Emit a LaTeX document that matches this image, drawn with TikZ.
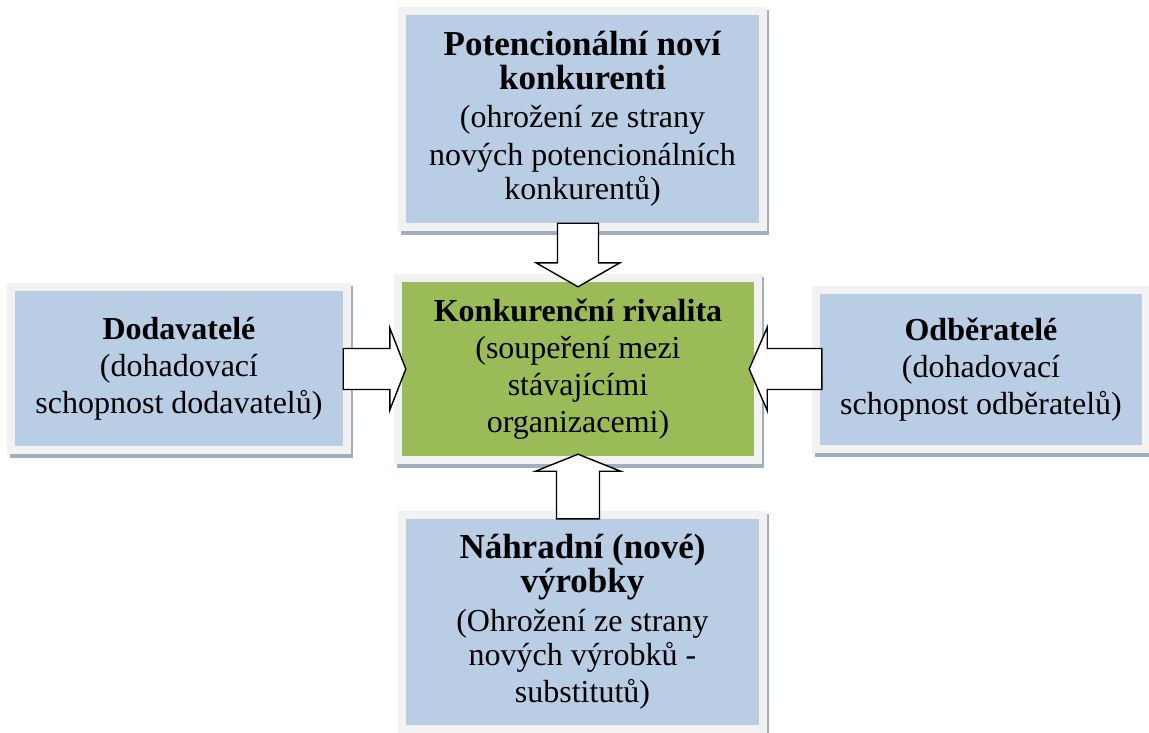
\documentclass[tikz,border=0pt]{standalone}
\usepackage{fontspec}
\setmainfont{Liberation Serif}
\usetikzlibrary{calc,backgrounds}
\definecolor{boxblue}{HTML}{B9CDE5}
\definecolor{boxgreen}{HTML}{9BBB59}
\definecolor{framegray}{HTML}{F2F2F2}
\definecolor{shadowgray}{HTML}{A2AEBE}
\newcommand{\bigb}[1]{{\fontsize{35}{37}\selectfont\textbf{#1}}}
\tikzset{
  panel/.style={rectangle, inner sep=0pt, align=center, text=black,
    font=\fontsize{32}{37}\selectfont},
  bluepanel/.style={panel, fill=boxblue},
  greenpanel/.style={panel, fill=boxgreen},
  barrow/.style={draw=black, fill=white, line width=1.4pt, line join=miter},
}
\begin{document}
\begin{tikzpicture}[x=1pt,y=-1pt]
\useasboundingbox (0,0) rectangle (1149,733);

\node[bluepanel, minimum width=353pt, minimum height=208pt] (top) at (582.5,119)
  {\bigb{Potencionální noví}\\[-3pt]\bigb{konkurenti}\\[1pt](ohrožení ze strany\\[1pt]nových potencionálních\\[-3pt]konkurentů)};
\node[greenpanel, minimum width=352pt, minimum height=174pt] (cen) at (578,369)
  {\textbf{Konkurenční rivalita}\\(soupeření mezi\\stávajícími\\organizacemi)};
\node[bluepanel, minimum width=328pt, minimum height=155pt] (lft) at (179,368.5)
  {\textbf{Dodavatelé}\\(dohadovací\\schopnost dodavatelů)};
\node[bluepanel, minimum width=322pt, minimum height=151pt] (rgt) at (981,369.5)
  {\textbf{Odběratelé}\\(dohadovací\\schopnost odběratelů)};
\node[bluepanel, minimum width=353pt, minimum height=206pt] (bot) at (582.5,622)
  {\bigb{Náhradní (nové)}\\[-3pt]\bigb{výrobky}\\[2pt](Ohrožení ze strany\\[-3pt]nových výrobků -\\substitutů)};

\begin{scope}[on background layer]
\foreach \n in {top,cen,lft,rgt,bot}{
  \fill[shadowgray] ($(\n.south west)+(-5,12)$) rectangle ($(\n.north east)+(10,-5)$);
  \fill[framegray] ($(\n.south west)+(-8,8)$) rectangle ($(\n.north east)+(8,-8)$);
}
\end{scope}

% top arrow (down)
\coordinate (t1) at (top.south -| cen.north);
\coordinate (t2) at ($(cen.north)+(0,5)$);
\draw[barrow] ($(t1)+(-20.5,0)$) -- ($(t1)+(20.5,0)$) -- ($(t2)+(20.5,-24)$) -- ($(t2)+(42,-24)$)
  -- (t2) -- ($(t2)+(-42,-24)$) -- ($(t2)+(-20.5,-24)$) -- cycle;

% bottom arrow (up)
\coordinate (b1) at (bot.north -| cen.south);
\coordinate (b2) at ($(cen.south)+(0,-2)$);
\draw[barrow] ($(b1)+(-21.5,0)$) -- ($(b1)+(21.5,0)$) -- ($(b2)+(21.5,17)$) -- ($(b2)+(42.5,17)$)
  -- (b2) -- ($(b2)+(-42.5,17)$) -- ($(b2)+(-21.5,17)$) -- cycle;

% left arrow (right)
\coordinate (l1) at (lft.east |- cen.west);
\coordinate (l2) at ($(cen.west)+(4,0)$);
\draw[barrow] ($(l1)+(0,-20.5)$) -- ($(l2)+(-16,-20.5)$) -- ($(l2)+(-16,-41)$) -- (l2)
  -- ($(l2)+(-16,41)$) -- ($(l2)+(-16,20.5)$) -- ($(l1)+(0,20.5)$) -- cycle;

% right arrow (left)
\coordinate (r1) at ($(rgt.west |- cen.east)+(2,0)$);
\coordinate (r2) at ($(cen.east)+(-5,0)$);
\draw[barrow] ($(r1)+(0,-20.5)$) -- ($(r2)+(18,-20.5)$) -- ($(r2)+(18,-41.5)$) -- (r2)
  -- ($(r2)+(18,41.5)$) -- ($(r2)+(18,20.5)$) -- ($(r1)+(0,20.5)$) -- cycle;
\end{tikzpicture}
\end{document}
